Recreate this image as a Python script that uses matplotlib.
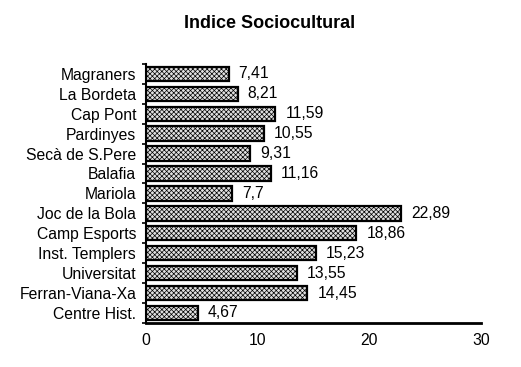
import numpy as np
import matplotlib.pyplot as plt

categories = ['Magraners', 'La Bordeta', 'Cap Pont', 'Pardinyes', 'Secà de S.Pere',
              'Balafia', 'Mariola', 'Joc de la Bola', 'Camp Esports', 'Inst. Templers',
              'Universitat', 'Ferran-Viana-Xa', 'Centre Hist.']
values = [7.41, 8.21, 11.59, 10.55, 9.31, 11.16, 7.7, 22.89, 18.86, 15.23, 13.55, 14.45, 4.67]
xticks = [0, 10, 20, 30]

plt.rcParams['font.family'] = ['Liberation Sans', 'DejaVu Sans']
plt.rcParams['hatch.color'] = '#6a6a6a'
plt.rcParams['hatch.linewidth'] = 0.5

fig = plt.figure(figsize=(5.21, 3.67), dpi=100)
ax = fig.add_axes([0.280, 0.120, 0.643, 0.706])

fs = 11.3
y = np.arange(len(categories))
ax.barh(y, values, height=0.72, color='#e0e0e0', edgecolor='black', linewidth=1.6,
        hatch='xxxxxxx')
for yi, v in zip(y, values):
    ax.text(v + 0.9, yi, f'{v:g}'.replace('.', ','), va='center', ha='left', fontsize=fs)

ax.set_yticks(y)
ax.set_yticklabels(categories, fontsize=fs)
ax.set_yticks(np.arange(-0.5, len(categories), 1), minor=True)
ax.tick_params(axis='y', which='major', length=0, pad=7)
ax.tick_params(axis='y', which='minor', length=3, width=1.2, direction='out')
ax.set_ylim(len(categories) - 0.5, -0.5)

ax.set_xlim(0, 30)
ax.set_xticks(xticks)
ax.tick_params(axis='x', length=0, labelsize=fs, pad=7)

for s in ['top', 'right']:
    ax.spines[s].set_visible(False)
ax.spines['left'].set_linewidth(1.5)
ax.spines['bottom'].set_linewidth(2)

fig.text(0.518, 0.935, 'Indice Sociocultural', ha='center', va='center',
         fontsize=13, fontweight='bold')

fig.savefig('out.png', dpi=100)
